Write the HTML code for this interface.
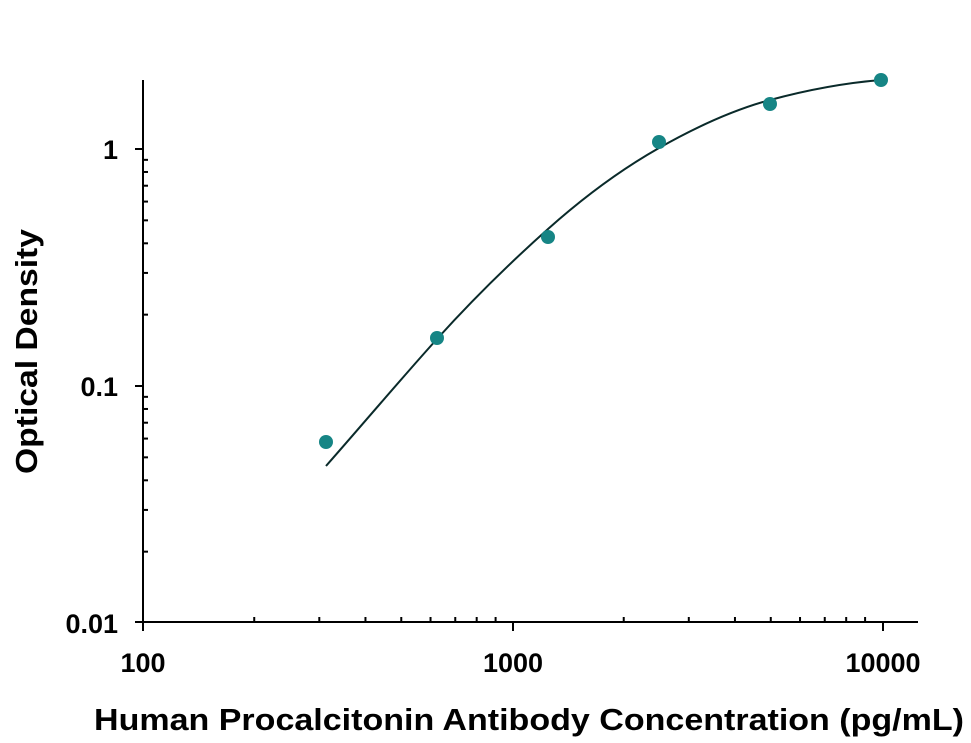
<!DOCTYPE html>
<html><head><meta charset="utf-8"><style>
body{margin:0;background:#fff;}
svg{display:block;font-family:"Liberation Sans",Arial,sans-serif;font-weight:bold;}
</style></head><body>
<svg id="s" width="971" height="743" viewBox="0 0 971 743" xmlns="http://www.w3.org/2000/svg">
<g id="ax" stroke="#000" stroke-width="2" fill="none">
<line x1="143" y1="80" x2="143" y2="631"/>
<line x1="135" y1="622" x2="918" y2="622"/>
<line x1="135" y1="149" x2="143" y2="149"/>
<line x1="135" y1="386" x2="143" y2="386"/>
<line x1="513" y1="622" x2="513" y2="631"/>
<line x1="883" y1="622" x2="883" y2="631"/>
</g>
<g font-size="27" fill="#000">
<text x="118" y="159" text-anchor="end">1</text>
<text x="118" y="396" text-anchor="end">0.1</text>
<text x="118" y="633" text-anchor="end">0.01</text>
<text x="143" y="672" text-anchor="middle">100</text>
<text x="513" y="672" text-anchor="middle">1000</text>
<text x="883" y="672" text-anchor="middle">10000</text>
<text x="94" y="730" font-size="31" textLength="870" lengthAdjust="spacingAndGlyphs">Human Procalcitonin Antibody Concentration (pg/mL)</text>
<text transform="translate(37,474) rotate(-90)" font-size="31" textLength="245" lengthAdjust="spacingAndGlyphs">Optical Density</text>
</g>
<path d="M326,466 C363,424 400,380 437,339 C474,298 511,262 548,229 C585,196 622,169 659,148 C696,127 733,110 770,100 C807,90 844,83 881,80" stroke="#0a2a2a" stroke-width="2" fill="none"/>
<g fill="#168585">
<circle cx="326" cy="442" r="7"/>
<circle cx="437" cy="338" r="7"/>
<circle cx="548" cy="237" r="7"/>
<circle cx="659" cy="142" r="7"/>
<circle cx="770" cy="104" r="7"/>
<circle cx="881" cy="80" r="7"/>
</g>
</svg>
<script>
var ax=document.getElementById('ax'),ns="http://www.w3.org/2000/svg";
function L(a,b,c,d){var l=document.createElementNS(ns,'line');l.setAttribute('x1',a);l.setAttribute('y1',b);l.setAttribute('x2',c);l.setAttribute('y2',d);ax.appendChild(l);}
for(var dec=0;dec<2;dec++)for(var k=2;k<10;k++){var x=143+369.5*(dec+Math.log10(k));L(x,622,x,617);}
for(var dec=0;dec<3;dec++)for(var k=2;k<10;k++){var v=Math.pow(10,dec-2)*k;var y=149-237*Math.log10(v);if(y>=80)L(143,y,148,y);}
</script>
</body></html>
